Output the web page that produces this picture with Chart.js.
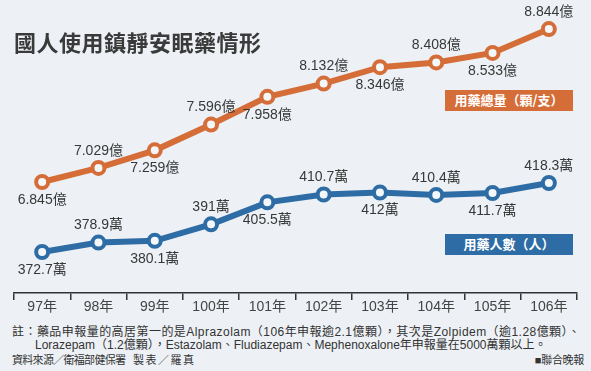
<!DOCTYPE html>
<html>
<head>
<meta charset="utf-8">
<script src="https://cdn.jsdelivr.net/npm/chart.js@4.4.1/dist/chart.umd.min.js"></script>
<style>
  html, body { margin: 0; padding: 0; }
  body {
    width: 591px; height: 371px; background: #edf1f5; position: relative; overflow: hidden;
    font-family: "Liberation Sans", "Noto Sans CJK TC", sans-serif; color: #333;
  }
  #title { position: absolute; left: 14px; top: 25px; font: bold 22px "Noto Sans CJK TC", sans-serif; color: #3a3a3a; letter-spacing: 0.5px; }
  #wrap { position: absolute; left: 0; top: 0; width: 591px; height: 318px; }
  .tag { position: absolute; left: 445px; width: 128px; height: 21px; line-height: 21px; color: #fff;
         font: bold 13px "Noto Sans CJK TC", sans-serif; text-align: center; }
  .note { position: absolute; font-size: 12px; line-height: 14px; white-space: nowrap; color: #333; }
</style>
</head>
<body>
<div id="wrap"><canvas id="chart1"></canvas></div>
<div id="title">國人使用鎮靜安眠藥情形</div>
<div class="tag" style="top:90px;background:#d56d38;">用藥總量（顆/支）</div>
<div class="tag" style="top:234px;background:#2e6ca5;">用藥人數（人）</div>
<div class="note" style="left:12px;top:325px;letter-spacing:0.45px;">註：藥品申報量的高居第一的是Alprazolam（106年申報逾2.1億顆），其次是Zolpidem（逾1.28億顆）、</div>
<div class="note" style="left:35px;top:338px;">Lorazepam（1.2億顆），Estazolam、Fludiazepam、Mephenoxalone年申報量在5000萬顆以上。</div>
<div class="note" style="left:12px;top:353px;font-size:11px;letter-spacing:-0.7px;">資料來源／衛福部健保署</div>
<div class="note" style="left:133px;top:353px;font-size:11px;letter-spacing:1.5px;">製表／羅真</div>
<div class="note" style="right:7px;top:353px;font-size:11px;letter-spacing:-0.3px;">■聯合晚報</div>
<script>
  "use strict";

  // data
  var years = ['97年', '98年', '99年', '100年', '101年', '102年', '103年', '104年', '105年', '106年'];
  var pillsTotal = [6.845, 7.029, 7.259, 7.596, 7.958, 8.132, 8.346, 8.408, 8.533, 8.844]; // 億
  var usersCount = [372.7, 378.9, 380.1, 391, 405.5, 410.7, 412, 410.4, 411.7, 418.3];   // 萬
  var units = ['億', '萬'];

  // value labels, alternating below / above each point
  var pointLabels = {
    id: 'pointLabels',
    afterDatasetsDraw: function(chart) {
      var c = chart.ctx;
      c.save();
      c.font = '14px "Liberation Sans", "Noto Sans CJK TC", sans-serif';
      c.fillStyle = '#383838';
      c.textAlign = 'center';
      c.textBaseline = 'middle';
      chart.data.datasets.forEach(function(ds, di) {
        chart.getDatasetMeta(di).data.forEach(function(pt, i) {
          var up = i % 2 === 1;
          c.fillText(ds.data[i] + units[di], pt.x, pt.y + (up ? -17 : 18));
        });
      });
      c.restore();
    }
  };

  var ctx = document.getElementById('chart1').getContext('2d');

  var myChart = new Chart(ctx, {
    type: 'line',
    data: {
      labels: years,
      datasets: [{
        label: '用藥總量',
        data: pillsTotal,
        yAxisID: 'y1',
        borderColor: '#d56d38',
        borderWidth: 6,
        pointRadius: 6,
        pointBorderWidth: 4,
        pointBackgroundColor: '#f4f7fa',
        pointBorderColor: '#d56d38',
        tension: 0
      }, {
        label: '用藥人數',
        data: usersCount,
        yAxisID: 'y2',
        borderColor: '#2e6ca5',
        borderWidth: 6,
        pointRadius: 6,
        pointBorderWidth: 4,
        pointBackgroundColor: '#f4f7fa',
        pointBorderColor: '#2e6ca5',
        tension: 0
      }]
    },
    options: {
      responsive: true,
      maintainAspectRatio: false,
      animation: false,
      layout: { padding: { top: 20, left: 14, right: 14, bottom: 0 } },
      plugins: {
        legend: { display: false },
        tooltip: { enabled: false }
      },
      scales: {
        x: {
          offset: true,
          grid: {
            offset: true,
            drawOnChartArea: false,
            drawTicks: true,
            tickLength: 7,
            color: '#333',
            lineWidth: 1.5
          },
          border: { display: true, color: '#333', width: 1.5 },
          ticks: {
            color: '#444',
            padding: -1,
            font: { size: 14, family: '"Liberation Sans", "Noto Sans CJK TC", sans-serif' }
          },
          afterFit: function(scale) { scale.height = 25; }
        },
        y1: { display: false, min: 5.394, max: 8.963 },
        y2: { display: false, min: 345.6, max: 526.0 }
      }
    },
    plugins: [pointLabels]
  });
</script>
</body>
</html>
